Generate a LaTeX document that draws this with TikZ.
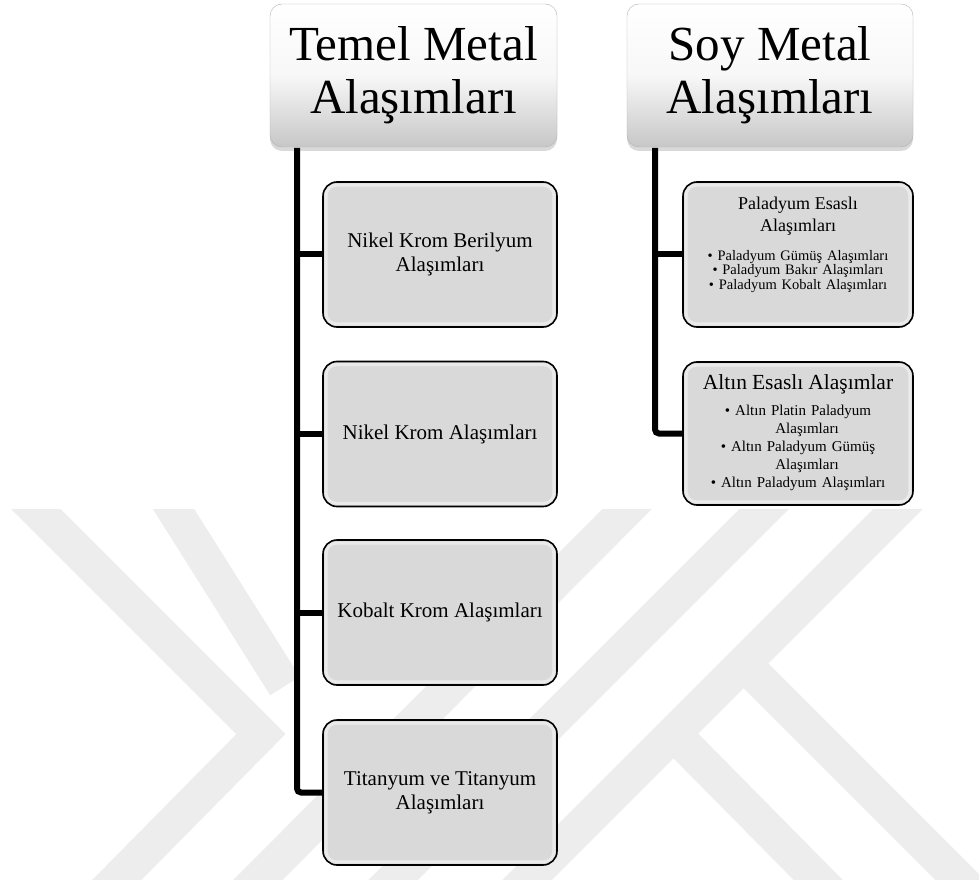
\documentclass[tikz,border=0pt]{standalone}
\usepackage{fontspec}
\setmainfont{Liberation Serif}
\usepackage{tikz}
\usetikzlibrary{positioning, shadows}

\newcommand{\pdbas}{\fontsize{18}{22}\selectfont}
\newcommand{\aubas}{\fontsize{21.5}{24}\selectfont}

\begin{document}
\begin{tikzpicture}[x=1pt, y=-1pt,
    baslik/.style = {draw=black!30, rounded corners=12pt, top color=white, bottom color=black!22, middle color=black!3, minimum width=287pt, minimum height=143pt, align=center, font=\fontsize{49}{53}\selectfont, drop shadow={shadow xshift=0pt, shadow yshift=-4pt, opacity=0.3}},
    kutu/.style = {draw=black, line width=1.6pt, rounded corners=14pt, fill=black!15, minimum width=234pt, minimum height=145pt, align=center, font=\fontsize{21}{24}\selectfont},
    yazi/.style = {text width=222pt, align=center, inner sep=0pt},
    hat/.style = {line width=6pt},
    iz/.style = {line width=35pt, black!7, line join=miter}]

    % arka plan (filigran)
    \useasboundingbox (0,0) rectangle (979,882);
    \begin{scope}
      \clip (0,509) rectangle (979,879);
      \draw[iz] (7,480) -- (261,734) -- (97,900);
      \draw[iz] (154,478) -- (285,686);
      \draw[iz] (656,480) -- (240,898);
      \draw[iz] (793,480) -- (371,902);
      \draw[iz] (927,480) -- (505,902);
      \draw[iz] (745,665) -- (978,898);
      \draw[iz] (675,735) -- (838,900);
    \end{scope}

    % ana basliklar
    \node[baslik] (temel) at (413.5,75.5) {Temel Metal\\Alaşımları};
    \node[baslik, minimum width=286pt] (soy) at (770,75.5) {Soy Metal\\Alaşımları};

    % temel metal kutulari
    \node[kutu] (nkb) at (440,254.5) {Nikel Krom Berilyum\\Alaşımları};
    \node[kutu] (nk) at (440,434) {Nikel Krom Alaşımları};
    \node[kutu] (kk) at (440,612.5) {Kobalt Krom Alaşımları};
    \node[kutu] (ti) at (440,792.5) {Titanyum ve Titanyum\\Alaşımları};

    % soy metal kutulari
    \node[kutu, minimum width=230pt] (pd) at (798,254.5) {};
    \node[kutu, minimum width=230pt, minimum height=143pt] (au) at (798,433.5) {};

    % kabartma kenarlari
    \foreach \k in {nkb, nk, kk, ti, pd, au}
      \draw[white, opacity=0.45, line width=3pt, rounded corners=10pt]
        ([shift={(4pt,-4pt)}]\k.north west) rectangle ([shift={(-4pt,4pt)}]\k.south east);

    \node[yazi, font=\fontsize{14.5}{14.5}\selectfont] (pdyazi) at (798,245)
      {{\pdbas Paladyum Esaslı\\Alaşımları\par}\vspace{14pt}
       • Paladyum Gümüş Alaşımları\\• Paladyum Bakır Alaşımları\\• Paladyum Kobalt Alaşımları};
    \node[yazi, font=\fontsize{15}{18}\selectfont] (auyazi) at (798,433)
      {{\aubas Altın Esaslı Alaşımlar\par}\vspace{8pt}
       • Altın Platin Paladyum\\\hspace*{1.2em}Alaşımları\\• Altın Paladyum Gümüş\\\hspace*{1.2em}Alaşımları\\• Altın Paladyum Alaşımları};

    % baglantilar
    \coordinate (sol) at (297,148);
    \coordinate (sag) at (655,148);
    \draw[hat, rounded corners=4pt] (sol) |- (ti.west);
    \draw[hat] (sol |- nkb.west) -- (nkb.west);
    \draw[hat] (sol |- nk.west) -- (nk.west);
    \draw[hat] (sol |- kk.west) -- (kk.west);
    \draw[hat, rounded corners=4pt] (sag) |- (au.west);
    \draw[hat] (sag |- pd.west) -- (pd.west);
\end{tikzpicture}
\end{document}
